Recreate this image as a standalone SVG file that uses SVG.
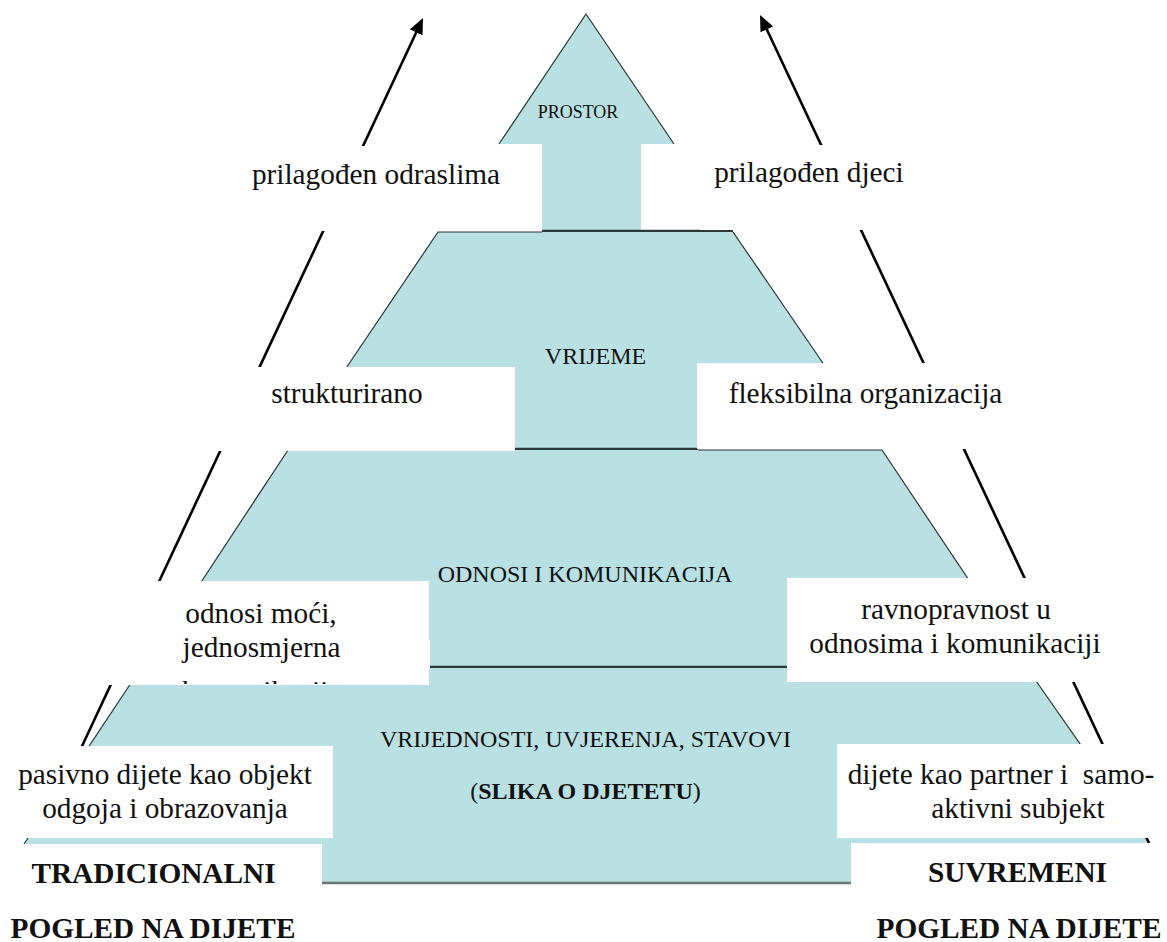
<svg xmlns="http://www.w3.org/2000/svg" width="1167" height="942" viewBox="0 0 1167 942">
<defs>
<marker id="ah" markerUnits="userSpaceOnUse" markerWidth="16" markerHeight="14" refX="13" refY="7" orient="auto">
<path d="M0,0 L16,7 L0,14 z" fill="#000"/>
</marker>
<clipPath id="clipOdn"><rect x="100" y="581" width="329" height="103"/></clipPath>
</defs>
<style>
.fill{fill:#B9E0E3}
.edge{stroke:#2a3434;stroke-width:1.2;fill:none}
.base{stroke:#2c3839;stroke-width:2.5}
.base2{stroke:#6a7879;stroke-width:2.5}
.guide{stroke:#000;stroke-width:2.6;fill:none}
.box{fill:#fff}
text{font-family:"Liberation Serif","Times New Roman",serif;fill:#111}
.lbl{font-size:29.3px;text-anchor:middle}
.lvl{font-size:24px;text-anchor:middle}
.b{font-weight:bold}
</style>
<rect x="0" y="0" width="1167" height="942" fill="#fff"/>

<g id="prostor">
<polygon class="fill" points="586,14 674,144 641,144 641,231 542,231 542,144 499,144"/>
<polyline class="edge" points="499,144 586,14 674,144"/>
<line class="base" x1="542" y1="231" x2="733" y2="231"/>
<text x="578" y="118" style="font-size:18px;text-anchor:middle">PROSTOR</text>
</g>

<g id="vrijeme">
<polygon class="fill" points="438,232 733,232 862,420 698,420 698,449 515,449 515,420 311,420"/>
<polyline class="edge" points="311,420 438,232 542,232"/>
<line class="edge" x1="733" y1="232" x2="862" y2="420"/>
<line class="base" x1="515" y1="449" x2="698" y2="449"/>
<text class="lvl" x="595.5" y="364">VRIJEME</text>
</g>

<g id="odnosi">
<polygon class="fill" points="288,450 882,450 1009,640 787,640 787,667 430,667 430,640 163,640"/>
<polyline class="edge" points="163,640 288,450 515,450"/>
<polyline class="edge" points="698,450 882,450 1009,640"/>
<line class="base" x1="430" y1="667" x2="787" y2="667"/>
<text class="lvl" x="585" y="582">ODNOSI I KOMUNIKACIJA</text>
</g>

<g id="vrijednosti">
<polygon class="fill" points="141,668 1027,668 1150,844 851,844 851,883 322,883 322,844 24,844"/>
<line class="edge" x1="24" y1="844" x2="141" y2="668"/>
<line class="edge" x1="1027" y1="668" x2="1150" y2="844"/>
<line class="base2" x1="322" y1="883" x2="851" y2="883"/>
<text class="lvl" x="585.5" y="747">VRIJEDNOSTI, UVJERENJA, STAVOVI</text>
<text class="lvl" x="585.5" y="799">(<tspan class="b">SLIKA O DJETETU</tspan>)</text>
</g>

<g id="connectors">
<line class="guide" x1="75.5" y1="760" x2="421.7" y2="20.7" marker-end="url(#ah)"/>
<line class="guide" x1="1149" y1="843" x2="761.3" y2="17.7" marker-end="url(#ah)"/>
</g>

<g id="t-prilagodjen-odraslima">
<rect class="box" x="236" y="146" width="302" height="85"/>
<text class="lbl" x="376" y="184">prilagođen odraslima</text>
</g>
<g id="t-prilagodjen-djeci">
<rect class="box" x="700" y="145" width="260" height="85"/>
<text class="lbl" x="809" y="182">prilagođen djeci</text>
</g>
<g id="t-strukturirano">
<rect class="box" x="190" y="367" width="325" height="84"/>
<text class="lbl" x="347" y="403">strukturirano</text>
</g>
<g id="t-fleksibilna">
<rect class="box" x="697" y="363" width="300" height="86"/>
<text class="lbl" x="865.5" y="403">fleksibilna organizacija</text>
</g>
<g id="t-odnosi-moci">
<rect class="box" x="100" y="581" width="329" height="104"/>
<g clip-path="url(#clipOdn)">
<text class="lbl" x="261" y="623">odnosi moći,</text>
<text class="lbl" x="261.5" y="657">jednosmjerna</text>
<text class="lbl" x="261.5" y="701">komunikacija</text>
</g>
</g>
<g id="t-ravnopravnost">
<rect class="box" x="787" y="578" width="330" height="104"/>
<text class="lbl" x="956" y="619">ravnopravnost u</text>
<text class="lbl" x="955" y="653">odnosima i komunikaciji</text>
</g>
<g id="t-pasivno">
<rect class="box" x="0" y="746" width="333" height="92"/>
<text class="lbl" x="165" y="784">pasivno dijete kao objekt</text>
<text class="lbl" x="165" y="818">odgoja i obrazovanja</text>
</g>
<g id="t-partner">
<rect class="box" x="837" y="744" width="330" height="94"/>
<text class="lbl" x="1001" y="784" xml:space="preserve">dijete kao partner i  samo-</text>
<text class="lbl" x="1018" y="818">aktivni subjekt</text>
</g>
<g id="t-tradicionalni">
<rect class="box" x="0" y="844" width="322" height="98"/>
<text class="lbl b" x="153.5" y="883">TRADICIONALNI</text>
<text class="lbl b" x="153" y="938">POGLED NA DIJETE</text>
</g>
<g id="t-suvremeni">
<rect class="box" x="851" y="843" width="316" height="99"/>
<text class="lbl b" x="1017.5" y="882">SUVREMENI</text>
<text class="lbl b" x="1019" y="938">POGLED NA DIJETE</text>
</g>
</svg>
